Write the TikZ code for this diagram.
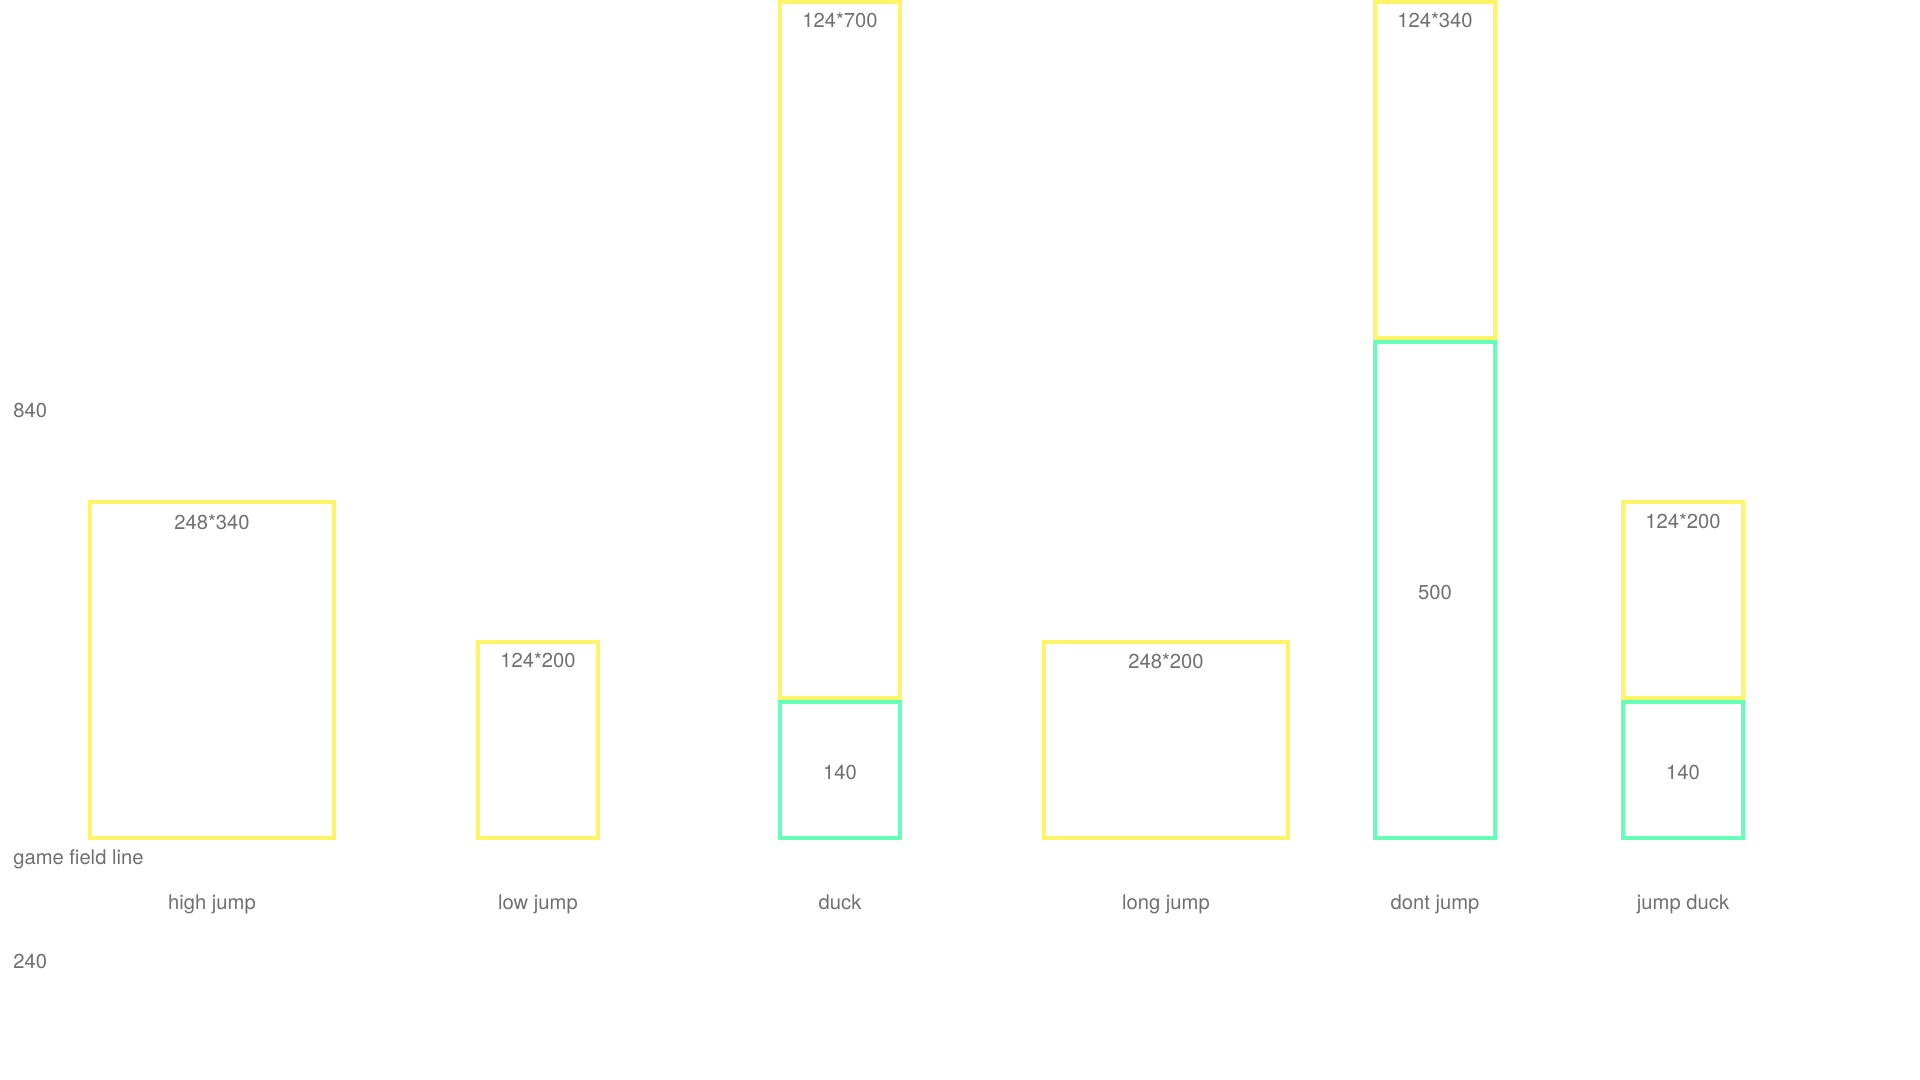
\documentclass[tikz,border=0pt]{standalone}
\usepackage{fontspec}
\setmainfont{TeX Gyre Heros}
\definecolor{hityellow}{RGB}{255,244,102}
\definecolor{hitgreen}{RGB}{102,255,184}
\definecolor{labgray}{RGB}{112,112,112}
\begin{document}
\begin{tikzpicture}[x=.5pt,y=-.5pt, ybox/.style={draw=hityellow,line width=2pt}, gbox/.style={draw=hitgreen,line width=2pt},
 lab/.style={text=labgray,font=\fontsize{10.1}{12}\selectfont,inner sep=0pt}]
\useasboundingbox (0,0) rectangle (1920,1080);
% boxes: left / width / top / bottom, outer edges in px
\foreach \xl/\w/\t/\b/\s in {88/248/500/840/ybox, 476/124/640/840/ybox, 778/124/0/700/ybox, 778/124/700/840/gbox,
 1042/248/640/840/ybox, 1373/124/0/340/ybox, 1373/124/340/840/gbox, 1621/124/500/700/ybox, 1621/124/700/840/gbox}
 \draw[\s] (\xl+2,\t+2) rectangle (\xl+\w-2,\b-2);
\path (13,417) node[lab,anchor=base west] (top) {840}
 (13,864) node[lab,anchor=base west] (field) {game field line}
 (13,968) node[lab,anchor=base west] (bottom) {240};
\foreach \x/\n/\t in {212/hj/high jump, 538/lj/low jump, 840/dk/duck, 1166/lg/long jump, 1435/dj/dont jump, 1683/jd/jump duck}
 \node[lab,anchor=base] (\n) at (\x,909) {\t};
\foreach \x/\y/\t [count=\i] in {212/529/248*340, 538/667/124*200, 840/28/124*700, 1166/668/248*200, 1435/28/124*340, 1683/528/124*200}
 \node[lab,anchor=base] (size\i) at (\x,\y) {\t};
\foreach \x/\y/\t [count=\i] in {840/772/140, 1435/592/500, 1683/772/140}
 \node[lab] (gap\i) at (\x,\y) {\t};
\end{tikzpicture}
\end{document}
